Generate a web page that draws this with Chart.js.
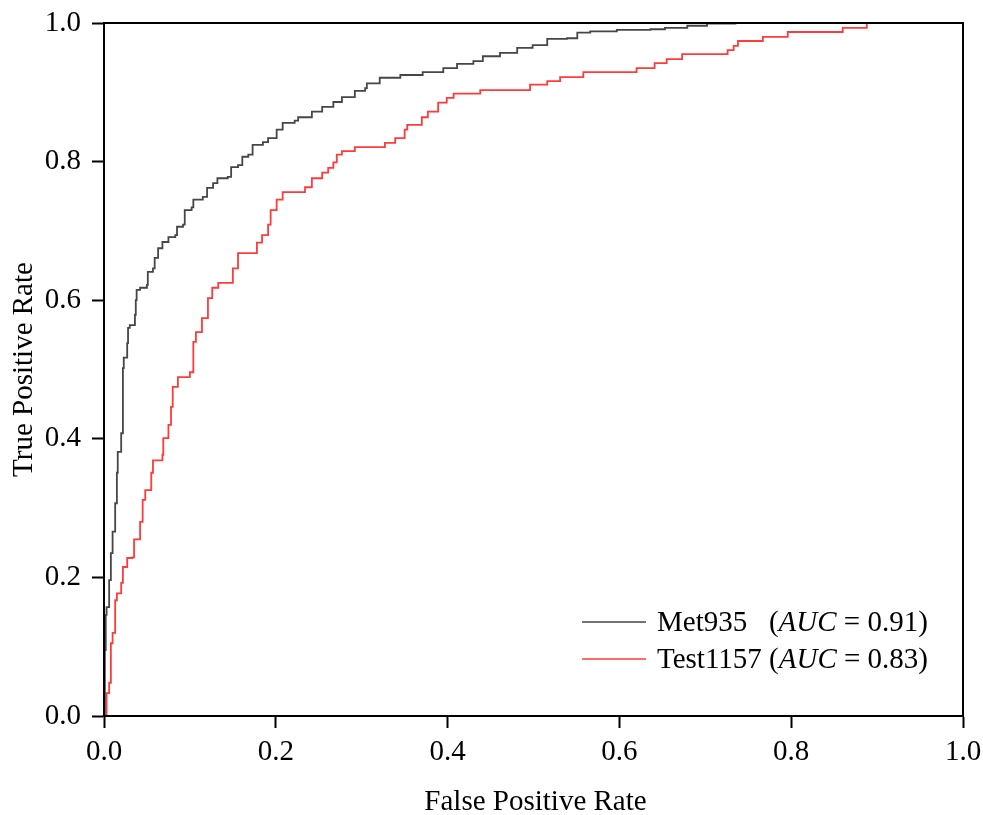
<!DOCTYPE html>
<html>
<head>
<meta charset="utf-8">
<script src="https://cdn.jsdelivr.net/npm/chart.js@4"></script>
<style>
html,body{margin:0;padding:0;background:#fff;}
#wrap{width:983px;height:815px;}
</style>
</head>
<body>
<div id="wrap"><canvas id="c" width="983" height="815"></canvas></div>
<script>
// ---- data ----
const seriesNames = ["Met935  ", "Test1157"];
const aucValues = ["0.91", "0.83"];
const xTitle = "False Positive Rate";
const yTitle = "True Positive Rate";
const xTicks = [0.0, 0.2, 0.4, 0.6, 0.8, 1.0];
const yTicks = [0.0, 0.2, 0.4, 0.6, 0.8, 1.0];

const metFpr = [0,0.001,0.002,0.003,0.006,0.008,0.010,0.013,0.015,0.016,0.020,0.022,0.023,0.027,0.028,0.030,0.036,0.037,0.038,0.042,0.050,0.051,0.057,0.059,0.063,0.068,0.075,0.083,0.085,0.092,0.094,0.102,0.104,0.115,0.120,0.127,0.132,0.144,0.148,0.156,0.161,0.168,0.173,0.185,0.191,0.201,0.208,0.222,0.226,0.242,0.254,0.267,0.277,0.292,0.304,0.306,0.321,0.345,0.371,0.395,0.411,0.430,0.441,0.461,0.481,0.499,0.516,0.539,0.551,0.566,0.597,0.636,0.653,0.679,0.702,0.735,1];
const metTpr = [0,0.095,0.146,0.157,0.196,0.235,0.266,0.307,0.351,0.381,0.408,0.502,0.517,0.538,0.560,0.564,0.579,0.600,0.615,0.618,0.622,0.641,0.646,0.661,0.675,0.684,0.691,0.694,0.706,0.709,0.730,0.734,0.745,0.749,0.762,0.769,0.776,0.778,0.792,0.795,0.807,0.810,0.824,0.828,0.834,0.846,0.856,0.859,0.864,0.872,0.879,0.886,0.893,0.902,0.906,0.913,0.921,0.925,0.929,0.935,0.941,0.945,0.952,0.957,0.964,0.968,0.977,0.978,0.986,0.988,0.990,0.991,0.993,0.996,0.999,1,1];

const testFpr = [0,0.003,0.006,0.008,0.010,0.013,0.015,0.020,0.022,0.027,0.033,0.035,0.042,0.045,0.048,0.055,0.057,0.068,0.069,0.075,0.078,0.080,0.086,0.098,0.100,0.104,0.107,0.114,0.121,0.121,0.126,0.133,0.149,0.150,0.156,0.176,0.178,0.184,0.191,0.194,0.201,0.208,0.232,0.234,0.242,0.254,0.261,0.267,0.271,0.277,0.292,0.327,0.339,0.350,0.353,0.370,0.377,0.389,0.399,0.407,0.438,0.496,0.516,0.531,0.558,0.620,0.641,0.655,0.673,0.726,0.733,0.738,0.767,0.796,0.860,0.888,1];
const testTpr = [0,0.033,0.048,0.105,0.120,0.167,0.177,0.192,0.215,0.228,0.229,0.255,0.280,0.312,0.326,0.351,0.369,0.377,0.401,0.420,0.446,0.475,0.489,0.489,0.496,0.540,0.554,0.574,0.600,0.603,0.618,0.625,0.625,0.646,0.668,0.668,0.683,0.694,0.709,0.730,0.745,0.756,0.756,0.763,0.776,0.784,0.791,0.799,0.810,0.815,0.821,0.827,0.834,0.846,0.853,0.864,0.872,0.885,0.892,0.898,0.903,0.911,0.916,0.922,0.929,0.935,0.942,0.948,0.955,0.961,0.967,0.974,0.980,0.987,0.993,1,1];

// ---- styles ----
const colors = ["#464646", "#ff3b3b"];
const FONT = "'Liberation Serif', 'Times New Roman', serif";
const FS = 29;

function toPts(xs, ys){ return xs.map((x,i)=>({x:x, y:ys[i]})); }

const boxPlugin = {
  id:'box',
  afterDraw(chart){
    const {ctx, chartArea:a} = chart;
    ctx.save();
    ctx.strokeStyle = '#000';
    ctx.lineWidth = 2;
    ctx.strokeRect(a.left, a.top, a.right - a.left, a.bottom - a.top);

    // axis titles
    ctx.fillStyle = '#000';
    ctx.textAlign = 'center';
    ctx.textBaseline = 'middle';
    ctx.font = FS + "px " + FONT;
    ctx.fillText(xTitle, (a.left + a.right) / 2 + 2, a.bottom + 86);
    ctx.save();
    ctx.translate(24, (a.top + a.bottom) / 2);
    ctx.rotate(-Math.PI / 2);
    ctx.fillText(yTitle, 0, 0);
    ctx.restore();

    // legend
    ctx.textAlign = 'left';
    const x0 = a.right - 381;
    const rows = [a.bottom - 94, a.bottom - 57];
    seriesNames.forEach((name, i) => {
      const y = rows[i];
      ctx.strokeStyle = colors[i];
      ctx.lineWidth = 1.6;
      ctx.beginPath();
      ctx.moveTo(x0, y); ctx.lineTo(x0 + 64, y); ctx.stroke();
      ctx.fillStyle = '#000';
      ctx.font = FS + "px " + FONT;
      const lead = name + " (";
      ctx.fillText(lead, x0 + 75, y + 1);
      let px = x0 + 75 + ctx.measureText(lead).width;
      ctx.font = "italic " + FS + "px " + FONT;
      ctx.fillText("AUC", px, y + 1);
      px += ctx.measureText("AUC").width;
      ctx.font = FS + "px " + FONT;
      ctx.fillText(" = " + aucValues[i] + ")", px, y + 1);
    });
    ctx.restore();
  }
};

new Chart(document.getElementById('c'), {
  type: 'scatter',
  data: {
    datasets: [
      { label: seriesNames[0].trim(), data: toPts(metFpr, metTpr), showLine: true, stepped: true,
        borderColor: colors[0], borderWidth: 1.8, pointRadius: 0, fill: false, clip: 2 },
      { label: seriesNames[1], data: toPts(testFpr, testTpr), showLine: true, stepped: true,
        borderColor: colors[1], borderWidth: 1.8, pointRadius: 0, fill: false, clip: 2 }
    ]
  },
  options: {
    responsive: false,
    animation: false,
    devicePixelRatio: 1,
    layout: { padding: { left: 0, right: 20, top: 23, bottom: 0 } },
    plugins: { legend: { display: false }, tooltip: { enabled: false } },
    scales: {
      x: {
        type: 'linear', min: 0, max: 1,
        afterFit(s){ s.height = 99; s.paddingLeft = 0; s.paddingRight = 0; },
        afterBuildTicks(s){ s.ticks = xTicks.map(v => ({value: v})); },
        grid: { drawOnChartArea: false, drawTicks: true, tickLength: 12, tickWidth: 2, tickColor: '#000' },
        border: { display: true, color: '#000', width: 2 },
        ticks: { color: '#000', padding: 7, maxRotation: 0, font: { family: FONT, size: FS },
                 callback: v => Number(v).toFixed(1) },
        title: { display: false }
      },
      y: {
        type: 'linear', min: 0, max: 1,
        afterFit(s){ s.width = 104; s.paddingTop = 0; s.paddingBottom = 0; },
        afterBuildTicks(s){ s.ticks = yTicks.map(v => ({value: v})); },
        grid: { drawOnChartArea: false, drawTicks: true, tickLength: 12, tickWidth: 2, tickColor: '#000' },
        border: { display: true, color: '#000', width: 2 },
        ticks: { color: '#000', padding: 11, font: { family: FONT, size: FS },
                 callback: v => Number(v).toFixed(1) },
        title: { display: false }
      }
    }
  },
  plugins: [boxPlugin]
});
</script>
</body>
</html>
